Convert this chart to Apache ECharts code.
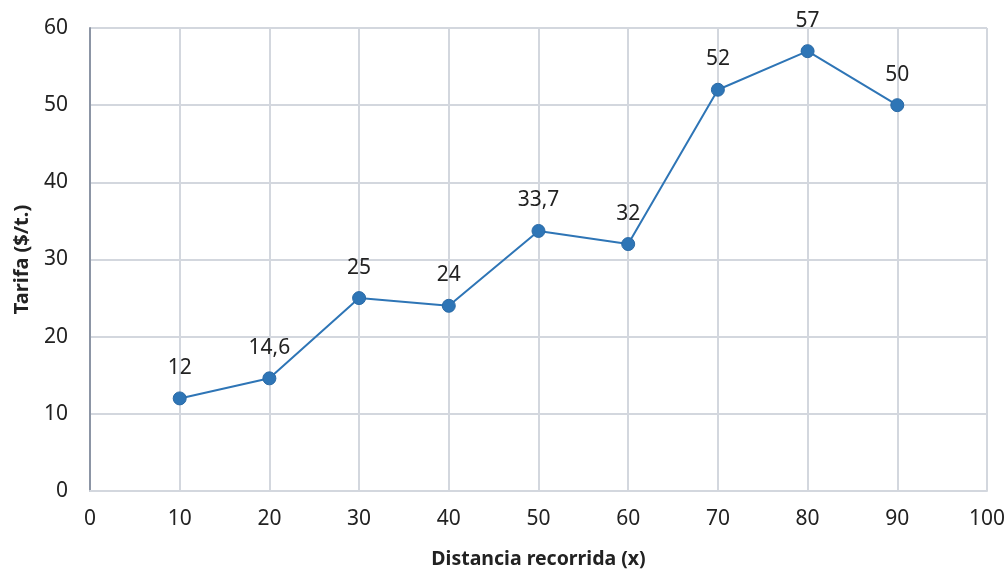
<!DOCTYPE html>
<html>
<head>
<meta charset="utf-8">
<script src="https://cdn.jsdelivr.net/npm/echarts@6/dist/echarts.min.js"></script>
<style>
  html, body { margin: 0; padding: 0; background: #ffffff; }
  #chart { width: 1008px; height: 574px; }
</style>
</head>
<body>
<div id="chart"></div>
<script>
// Distance travelled (x) and the fare charged for it
const distancias = [10, 20, 30, 40, 50, 60, 70, 80, 90];
const tarifas = [12, 14.6, 25, 24, 33.7, 32, 52, 57, 50];

const xTitulo = 'Distancia recorrida (x)';
const yTitulo = 'Tarifa ($/t.)';

const fuente = '"Noto Sans", "Open Sans", sans-serif';
const texto = '#222222';
const rejilla = '#d3d7de';
const azul = '#2e75b6';

const puntos = distancias.map((d, i) => [d, tarifas[i]]);

const chart = echarts.init(document.getElementById('chart'), null, { renderer: 'canvas' });
chart.setOption({
  animation: false,
  backgroundColor: '#ffffff',
  grid: { left: 90, right: 21, top: 28, bottom: 82, containLabel: false },
  xAxis: {
    type: 'value',
    min: 0, max: 100, interval: 10,
    name: xTitulo,
    nameLocation: 'middle',
    nameGap: 58,
    nameTextStyle: { fontFamily: fuente, fontSize: 19.5, fontWeight: 'bold', color: texto },
    axisLine: { show: true, lineStyle: { color: rejilla, width: 2 } },
    axisTick: { show: false },
    axisLabel: { fontFamily: fuente, fontSize: 21, color: texto, margin: 18 },
    splitLine: { show: true, lineStyle: { color: rejilla, width: 2 } }
  },
  yAxis: {
    type: 'value',
    min: 0, max: 60, interval: 10,
    name: yTitulo,
    nameLocation: 'middle',
    nameGap: 58,
    nameTextStyle: { fontFamily: fuente, fontSize: 20, fontWeight: 'bold', color: texto },
    axisLine: { show: true, lineStyle: { color: '#8c95a5', width: 2 } },
    axisTick: { show: false },
    axisLabel: { fontFamily: fuente, fontSize: 21, color: texto, margin: 22 },
    splitLine: { show: true, lineStyle: { color: rejilla, width: 2 } }
  },
  series: [{
    type: 'line',
    data: puntos,
    symbol: 'circle',
    symbolSize: 13,
    lineStyle: { color: azul, width: 2 },
    itemStyle: { color: azul, borderColor: '#2a6aa6', borderWidth: 1 },
    label: {
      show: true,
      position: 'top',
      distance: 13,
      fontFamily: fuente,
      fontSize: 21,
      color: texto,
      formatter: p => String(p.value[1]).replace('.', ',')
    },
    z: 3
  }]
});
</script>
</body>
</html>
